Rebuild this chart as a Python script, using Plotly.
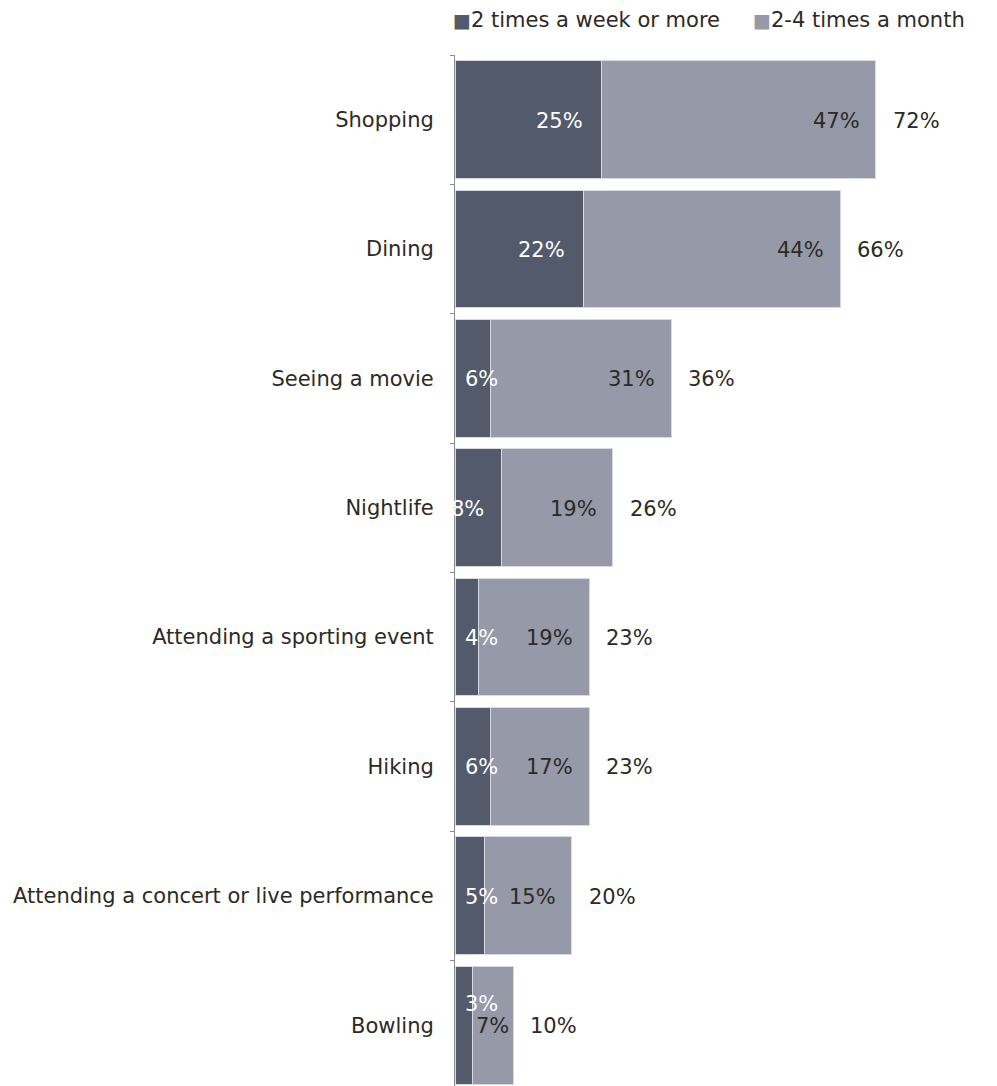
import plotly.graph_objects as go

# Activities, shares of respondents (%) by frequency
activities = [
    "Shopping",
    "Dining",
    "Seeing a movie",
    "Nightlife",
    "Attending a sporting event",
    "Hiking",
    "Attending a concert or live performance",
    "Bowling",
]
weekly = [25, 22, 6, 8, 4, 6, 5, 3]          # 2 times a week or more
monthly = [47, 44, 31, 19, 19, 17, 15, 7]     # 2-4 times a month
totals = [72, 66, 36, 26, 23, 23, 20, 10]     # combined share

series_names = ["2 times a week or more", "2-4 times a month"]

DARK = "#525a6b"
LIGHT = "#9599a8"
EDGE = "#d7dae1"
TEXT = "#2d2a25"
FONT = "DejaVu Sans"
FS = 21

fig = go.Figure()
fig.add_trace(go.Bar(
    y=activities, x=weekly, orientation="h", name=series_names[0],
    marker=dict(color=DARK, line=dict(color=EDGE, width=1)),
))
fig.add_trace(go.Bar(
    y=activities, x=monthly, orientation="h", name=series_names[1],
    marker=dict(color=LIGHT, line=dict(color=EDGE, width=1)),
))

annotations = []
for cat, w, m, t in zip(activities, weekly, monthly, totals):
    crowded = m < 10
    # weekly segment label (white)
    if w >= 7:
        wa = dict(x=w, xanchor="right", xshift=-16)
    else:
        wa = dict(x=0, xanchor="left", xshift=8)
    annotations.append(dict(
        y=cat, text=f"{w}%", showarrow=False, yshift=21 if crowded else -1,
        font=dict(family=FONT, size=FS, color="white"), **wa,
    ))
    # monthly segment label
    if crowded:
        ma = dict(x=w + m / 2, xanchor="center", xshift=0)
    else:
        ma = dict(x=w + m, xanchor="right", xshift=-14)
    annotations.append(dict(
        y=cat, text=f"{m}%", showarrow=False, yshift=-1,
        font=dict(family=FONT, size=FS, color=TEXT), **ma,
    ))
    # total label beyond the bar
    annotations.append(dict(
        y=cat, x=w + m, text=f"{t}%", showarrow=False, xanchor="left",
        xshift=15, yshift=-1,
        font=dict(family=FONT, size=FS, color=TEXT),
    ))

# Key above the plot: coloured square followed by the series name
for name, color, xpos in zip(series_names, [DARK, LIGHT], [-0.008, 0.546]):
    annotations.append(dict(
        xref="paper", yref="paper", x=xpos, y=1.034,
        xanchor="left", yanchor="middle", showarrow=False,
        text=f'<span style="color:{color};font-size:19px">■</span>{name}',
        font=dict(family=FONT, size=FS, color=TEXT),
    ))

fig.update_layout(
    barmode="stack",
    bargap=0.09,
    width=997,
    height=1086,
    margin=dict(l=455, r=0, t=55, b=0),
    paper_bgcolor="white",
    plot_bgcolor="white",
    font=dict(family=FONT, size=FS, color=TEXT),
    showlegend=False,
    annotations=annotations,
    xaxis=dict(
        range=[0, 92.8], showticklabels=False, showgrid=False,
        zeroline=False, showline=False, ticks="",
    ),
    yaxis=dict(
        type="category", categoryorder="array", categoryarray=activities,
        range=[7.47, -0.5], showgrid=False, zeroline=False,
        showline=True, linecolor="#8c8c8c", linewidth=1,
        ticks="outside", ticklen=4, tickcolor="#8c8c8c",
        tickson="boundaries", ticklabelstandoff=16,
        tickfont=dict(family=FONT, size=FS, color=TEXT),
    ),
)

fig.write_html("out.html")
